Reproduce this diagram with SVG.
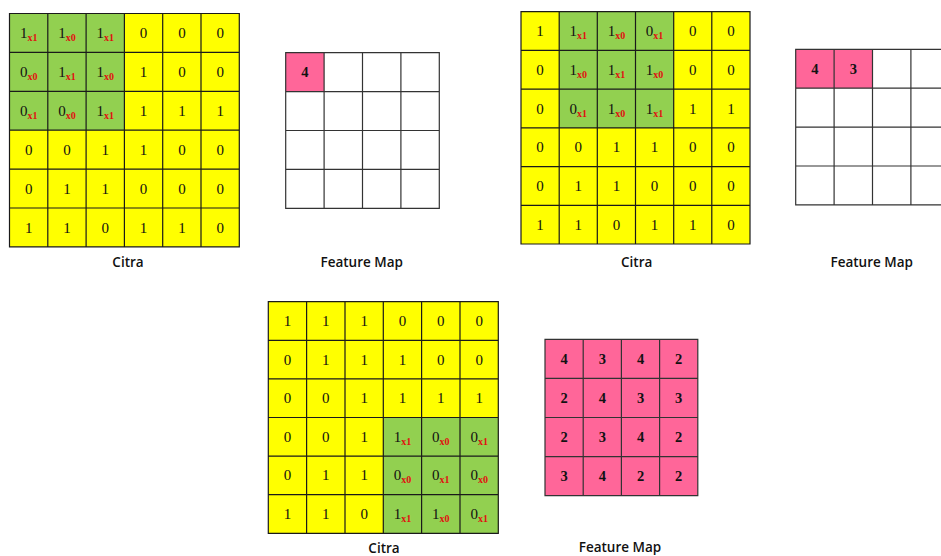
<svg xmlns="http://www.w3.org/2000/svg" width="941" height="556" viewBox="0 0 941 556">
<style>
.bg{fill:#fff}
.y{fill:#ffff00}
.g{fill:#92d050}
.p{fill:#ff6699}
.ln{fill:none;stroke:#1a1a1a;stroke-width:1.2}
.fl{fill:none;stroke:#333;stroke-width:1.2}
.n{font-family:"Liberation Serif","Times New Roman",serif;font-size:15px;fill:#111;text-anchor:middle}
.s{font-family:"Liberation Serif","Times New Roman",serif;font-size:10px;font-weight:bold;fill:#e01010}
.f{font-family:"Liberation Serif","Times New Roman",serif;font-size:14.5px;font-weight:bold;fill:#111;text-anchor:middle}
.lb{font-family:"Open Sans","Liberation Sans",Arial,sans-serif;font-size:13.5px;font-weight:600;fill:#111;text-anchor:middle}
</style>
<rect class="bg" x="0" y="0" width="941" height="556"/>

<g id="citra1">
<rect class="y" x="9.5" y="13.5" width="229.8" height="233.4"/>
<rect class="g" x="9.5" y="13.5" width="114.9" height="116.7"/>
<path class="ln" d="M9.5 13.5H239.3V246.9H9.5Z M47.8 13.5V246.9 M86.1 13.5V246.9 M124.4 13.5V246.9 M162.7 13.5V246.9 M201 13.5V246.9 M9.5 52.4H239.3 M9.5 91.3H239.3 M9.5 130.2H239.3 M9.5 169.1H239.3 M9.5 208H239.3"/>
<text class="n" x="28.7" y="38">1<tspan class="s" dy="3">x1</tspan></text>
<text class="n" x="67" y="38">1<tspan class="s" dy="3">x0</tspan></text>
<text class="n" x="105.3" y="38">1<tspan class="s" dy="3">x1</tspan></text>
<text class="n" x="143.6" y="38">0</text>
<text class="n" x="181.9" y="38">0</text>
<text class="n" x="220.2" y="38">0</text>
<text class="n" x="28.7" y="76.9">0<tspan class="s" dy="3">x0</tspan></text>
<text class="n" x="67" y="76.9">1<tspan class="s" dy="3">x1</tspan></text>
<text class="n" x="105.3" y="76.9">1<tspan class="s" dy="3">x0</tspan></text>
<text class="n" x="143.6" y="76.9">1</text>
<text class="n" x="181.9" y="76.9">0</text>
<text class="n" x="220.2" y="76.9">0</text>
<text class="n" x="28.7" y="115.8">0<tspan class="s" dy="3">x1</tspan></text>
<text class="n" x="67" y="115.8">0<tspan class="s" dy="3">x0</tspan></text>
<text class="n" x="105.3" y="115.8">1<tspan class="s" dy="3">x1</tspan></text>
<text class="n" x="143.6" y="115.8">1</text>
<text class="n" x="181.9" y="115.8">1</text>
<text class="n" x="220.2" y="115.8">1</text>
<text class="n" x="28.7" y="154.7">0</text>
<text class="n" x="67" y="154.7">0</text>
<text class="n" x="105.3" y="154.7">1</text>
<text class="n" x="143.6" y="154.7">1</text>
<text class="n" x="181.9" y="154.7">0</text>
<text class="n" x="220.2" y="154.7">0</text>
<text class="n" x="28.7" y="193.6">0</text>
<text class="n" x="67" y="193.6">1</text>
<text class="n" x="105.3" y="193.6">1</text>
<text class="n" x="143.6" y="193.6">0</text>
<text class="n" x="181.9" y="193.6">0</text>
<text class="n" x="220.2" y="193.6">0</text>
<text class="n" x="28.7" y="232.5">1</text>
<text class="n" x="67" y="232.5">1</text>
<text class="n" x="105.3" y="232.5">0</text>
<text class="n" x="143.6" y="232.5">1</text>
<text class="n" x="181.9" y="232.5">1</text>
<text class="n" x="220.2" y="232.5">0</text>
<text class="lb" x="128" y="266.5">Citra</text>
</g>

<g id="featuremap1">
<rect class="p" x="285.7" y="52.7" width="38.4" height="38.9"/>
<path class="fl" d="M285.7 52.7H439.3V208.3H285.7Z M324.1 52.7V208.3 M362.5 52.7V208.3 M400.9 52.7V208.3 M285.7 91.6H439.3 M285.7 130.5H439.3 M285.7 169.4H439.3"/>
<text class="f" x="304.9" y="77.2">4</text>
<text class="lb" x="361.7" y="266.5">Feature Map</text>
</g>

<g id="citra2">
<rect class="y" x="521" y="11.7" width="229" height="232.3"/>
<rect class="g" x="559.2" y="11.7" width="114.5" height="116.2"/>
<path class="ln" d="M521 11.7H750V244H521Z M559.2 11.7V244 M597.3 11.7V244 M635.5 11.7V244 M673.7 11.7V244 M711.8 11.7V244 M521 50.4H750 M521 89.1H750 M521 127.9H750 M521 166.6H750 M521 205.3H750"/>
<text class="n" x="540.1" y="36.1">1</text>
<text class="n" x="578.3" y="36.1">1<tspan class="s" dy="3">x1</tspan></text>
<text class="n" x="616.4" y="36.1">1<tspan class="s" dy="3">x0</tspan></text>
<text class="n" x="654.6" y="36.1">0<tspan class="s" dy="3">x1</tspan></text>
<text class="n" x="692.8" y="36.1">0</text>
<text class="n" x="730.9" y="36.1">0</text>
<text class="n" x="540.1" y="74.8">0</text>
<text class="n" x="578.3" y="74.8">1<tspan class="s" dy="3">x0</tspan></text>
<text class="n" x="616.4" y="74.8">1<tspan class="s" dy="3">x1</tspan></text>
<text class="n" x="654.6" y="74.8">1<tspan class="s" dy="3">x0</tspan></text>
<text class="n" x="692.8" y="74.8">0</text>
<text class="n" x="730.9" y="74.8">0</text>
<text class="n" x="540.1" y="113.5">0</text>
<text class="n" x="578.3" y="113.5">0<tspan class="s" dy="3">x1</tspan></text>
<text class="n" x="616.4" y="113.5">1<tspan class="s" dy="3">x0</tspan></text>
<text class="n" x="654.6" y="113.5">1<tspan class="s" dy="3">x1</tspan></text>
<text class="n" x="692.8" y="113.5">1</text>
<text class="n" x="730.9" y="113.5">1</text>
<text class="n" x="540.1" y="152.3">0</text>
<text class="n" x="578.3" y="152.3">0</text>
<text class="n" x="616.4" y="152.3">1</text>
<text class="n" x="654.6" y="152.3">1</text>
<text class="n" x="692.8" y="152.3">0</text>
<text class="n" x="730.9" y="152.3">0</text>
<text class="n" x="540.1" y="191">0</text>
<text class="n" x="578.3" y="191">1</text>
<text class="n" x="616.4" y="191">1</text>
<text class="n" x="654.6" y="191">0</text>
<text class="n" x="692.8" y="191">0</text>
<text class="n" x="730.9" y="191">0</text>
<text class="n" x="540.1" y="229.7">1</text>
<text class="n" x="578.3" y="229.7">1</text>
<text class="n" x="616.4" y="229.7">0</text>
<text class="n" x="654.6" y="229.7">1</text>
<text class="n" x="692.8" y="229.7">1</text>
<text class="n" x="730.9" y="229.7">0</text>
<text class="lb" x="636.7" y="266.5">Citra</text>
</g>

<g id="featuremap2">
<rect class="p" x="795.7" y="49.3" width="76.8" height="38.9"/>
<path class="fl" d="M945 49.3H795.7V204.9H945 M834.1 49.3V204.9 M872.5 49.3V204.9 M910.9 49.3V204.9 M795.7 88.2H945 M795.7 127.1H945 M795.7 166H945"/>
<text class="f" x="814.9" y="73.8">4</text>
<text class="f" x="853.3" y="73.8">3</text>
<text class="lb" x="871.7" y="266.5">Feature Map</text>
</g>

<g id="citra3">
<rect class="y" x="268.3" y="301.7" width="230" height="231.6"/>
<rect class="g" x="383.3" y="417.5" width="115" height="115.8"/>
<path class="ln" d="M268.3 301.7H498.3V533.3H268.3Z M306.6 301.7V533.3 M345 301.7V533.3 M383.3 301.7V533.3 M421.6 301.7V533.3 M460 301.7V533.3 M268.3 340.3H498.3 M268.3 378.9H498.3 M268.3 417.5H498.3 M268.3 456.1H498.3 M268.3 494.7H498.3"/>
<text class="n" x="287.5" y="326">1</text>
<text class="n" x="325.8" y="326">1</text>
<text class="n" x="364.2" y="326">1</text>
<text class="n" x="402.5" y="326">0</text>
<text class="n" x="440.8" y="326">0</text>
<text class="n" x="479.2" y="326">0</text>
<text class="n" x="287.5" y="364.6">0</text>
<text class="n" x="325.8" y="364.6">1</text>
<text class="n" x="364.2" y="364.6">1</text>
<text class="n" x="402.5" y="364.6">1</text>
<text class="n" x="440.8" y="364.6">0</text>
<text class="n" x="479.2" y="364.6">0</text>
<text class="n" x="287.5" y="403.2">0</text>
<text class="n" x="325.8" y="403.2">0</text>
<text class="n" x="364.2" y="403.2">1</text>
<text class="n" x="402.5" y="403.2">1</text>
<text class="n" x="440.8" y="403.2">1</text>
<text class="n" x="479.2" y="403.2">1</text>
<text class="n" x="287.5" y="441.8">0</text>
<text class="n" x="325.8" y="441.8">0</text>
<text class="n" x="364.2" y="441.8">1</text>
<text class="n" x="402.5" y="441.8">1<tspan class="s" dy="3">x1</tspan></text>
<text class="n" x="440.8" y="441.8">0<tspan class="s" dy="3">x0</tspan></text>
<text class="n" x="479.2" y="441.8">0<tspan class="s" dy="3">x1</tspan></text>
<text class="n" x="287.5" y="480.4">0</text>
<text class="n" x="325.8" y="480.4">1</text>
<text class="n" x="364.2" y="480.4">1</text>
<text class="n" x="402.5" y="480.4">0<tspan class="s" dy="3">x0</tspan></text>
<text class="n" x="440.8" y="480.4">0<tspan class="s" dy="3">x1</tspan></text>
<text class="n" x="479.2" y="480.4">0<tspan class="s" dy="3">x0</tspan></text>
<text class="n" x="287.5" y="519">1</text>
<text class="n" x="325.8" y="519">1</text>
<text class="n" x="364.2" y="519">0</text>
<text class="n" x="402.5" y="519">1<tspan class="s" dy="3">x1</tspan></text>
<text class="n" x="440.8" y="519">1<tspan class="s" dy="3">x0</tspan></text>
<text class="n" x="479.2" y="519">0<tspan class="s" dy="3">x1</tspan></text>
<text class="lb" x="384" y="552.5">Citra</text>
</g>

<g id="featuremap3">
<rect class="p" x="545" y="339.3" width="152.8" height="156.4"/>
<path class="fl" d="M545 339.3H697.8V495.7H545Z M583.2 339.3V495.7 M621.4 339.3V495.7 M659.6 339.3V495.7 M545 378.4H697.8 M545 417.5H697.8 M545 456.6H697.8"/>
<text class="f" x="564.1" y="364">4</text>
<text class="f" x="602.3" y="364">3</text>
<text class="f" x="640.5" y="364">4</text>
<text class="f" x="678.7" y="364">2</text>
<text class="f" x="564.1" y="403.1">2</text>
<text class="f" x="602.3" y="403.1">4</text>
<text class="f" x="640.5" y="403.1">3</text>
<text class="f" x="678.7" y="403.1">3</text>
<text class="f" x="564.1" y="442.2">2</text>
<text class="f" x="602.3" y="442.2">3</text>
<text class="f" x="640.5" y="442.2">4</text>
<text class="f" x="678.7" y="442.2">2</text>
<text class="f" x="564.1" y="481.3">3</text>
<text class="f" x="602.3" y="481.3">4</text>
<text class="f" x="640.5" y="481.3">2</text>
<text class="f" x="678.7" y="481.3">2</text>
<text class="lb" x="620" y="552">Feature Map</text>
</g>
</svg>
